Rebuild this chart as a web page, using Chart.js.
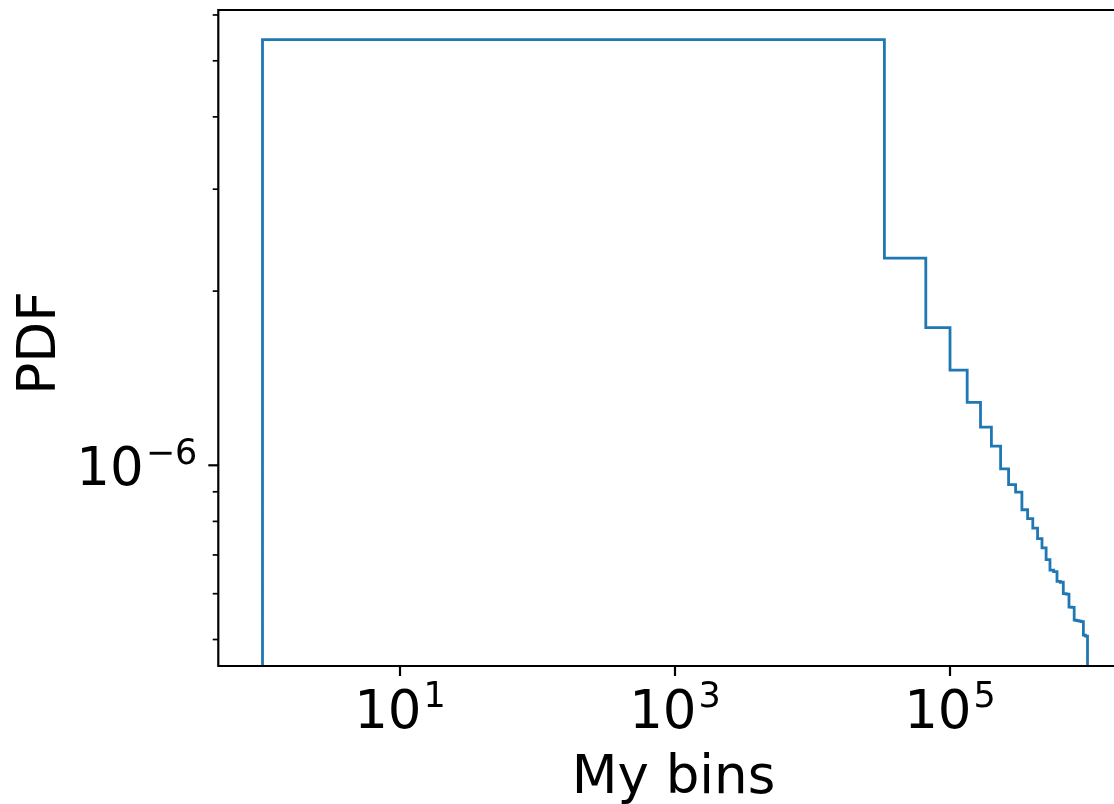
<!DOCTYPE html>
<html>
<head>
<meta charset="utf-8">
<title>PDF histogram</title>
<script src="https://cdn.jsdelivr.net/npm/chart.js@4/dist/chart.umd.min.js"></script>
<style>
  html, body { margin: 0; padding: 0; background: #fff; overflow: hidden; }
  #wrap { width: 1140px; height: 804px; }
</style>
</head>
<body>
<div id="wrap"><canvas id="histChart" width="1140" height="804"></canvas></div>
<script>
// ===================================
// Data: step histogram, log-log
// ===================================

// bin edges (30 linear bins from 1 to 1e6)
const binEdges = [
  1, 33334, 66667, 100000, 133334, 166667, 200000, 233334, 266667, 300000,
  333334, 366667, 400000, 433334, 466667, 500000, 533334, 566667, 600000, 633334,
  666667, 700000, 733334, 766667, 800000, 833334, 866667, 900000, 933334, 966667,
  1000000
];

// PDF value of each bin
const pdfValues = [
  5.44e-6, 2.28e-6, 1.73e-6, 1.46e-6, 1.285e-6, 1.164e-6, 1.079e-6, 9.86e-7, 9.26e-7, 8.99e-7,
  8.38e-7, 8.09e-7, 7.79e-7, 7.47e-7, 7.20e-7, 6.87e-7, 6.59e-7, 6.55e-7, 6.30e-7, 6.28e-7,
  6.00e-7, 5.99e-7, 5.69e-7, 5.68e-7, 5.40e-7, 5.39e-7, 5.38e-7, 5.37e-7, 5.09e-7, 5.07e-7
];

const xTickValues = [10, 1000, 100000];
const yTickValues = [5e-7, 6e-7, 7e-7, 8e-7, 9e-7, 1e-6, 2e-6, 3e-6, 4e-6, 5e-6, 6e-6];
const yMajorTicks = [1e-6];

const xLabel = 'My bins';
const yLabel = 'PDF';

// axis limits
const xLimits = [0.477, 1.995e6];
const yLimits = [4.5e-7, 6.12e-6];

// ===================================
// Helpers
// ===================================

// outline of a step histogram: up at the first edge, down at the last
function buildStepPoints(edges, values, floor) {
  const pts = [{ x: edges[0], y: floor }];
  values.forEach((v, i) => pts.push({ x: edges[i], y: v }));
  pts.push({ x: edges[edges.length - 1], y: floor });
  return pts;
}

const FONT = '"DejaVu Sans", sans-serif';
const BASE_SIZE = 53;
const SUP_SIZE = 35;
const SUP_RAISE = 21.5;

// draws "10" with the exponent as a superscript
function drawPowerLabel(ctx, value, x, baseline, align) {
  const exp = String(Math.round(Math.log10(value))).replace('-', '\u2212');
  ctx.font = BASE_SIZE + 'px ' + FONT;
  const wBase = ctx.measureText('10').width;
  ctx.font = SUP_SIZE + 'px ' + FONT;
  const wSup = ctx.measureText(exp).width;
  const gap = 2;
  const total = wBase + gap + wSup;
  let start = x - total / 2;
  if (align === 'right') start = x - total;

  ctx.textAlign = 'left';
  ctx.textBaseline = 'alphabetic';
  ctx.font = BASE_SIZE + 'px ' + FONT;
  ctx.fillText('10', start, baseline);
  ctx.font = SUP_SIZE + 'px ' + FONT;
  ctx.fillText(exp, start + wBase + gap, baseline - SUP_RAISE);
}

// frame, tick marks and labels in the matplotlib look
const axesDecor = {
  id: 'axesDecor',
  afterDraw(chart) {
    const { ctx, chartArea: area, scales: { x, y } } = chart;
    ctx.save();
    ctx.strokeStyle = '#000';
    ctx.fillStyle = '#000';

    // spines
    ctx.lineWidth = 2.2;
    ctx.beginPath();
    ctx.moveTo(area.left, area.top - 1.1);
    ctx.lineTo(area.left, area.bottom + 1.1);
    ctx.moveTo(area.left - 1.1, area.bottom);
    ctx.lineTo(area.right + 1.1, area.bottom);
    ctx.moveTo(area.left - 1.1, area.top);
    ctx.lineTo(area.right + 1.1, area.top);
    ctx.moveTo(area.right, area.top - 1.1);
    ctx.lineTo(area.right, area.bottom + 1.1);
    ctx.stroke();

    // y ticks
    y.ticks.forEach(t => {
      const py = y.getPixelForValue(t.value);
      const major = yMajorTicks.includes(t.value);
      const len = major ? 10 : 5.6;
      ctx.lineWidth = major ? 2.2 : 1.7;
      ctx.beginPath();
      ctx.moveTo(area.left - len, py);
      ctx.lineTo(area.left, py);
      ctx.stroke();
      if (major) drawPowerLabel(ctx, t.value, area.left - 21, py + 20, 'right');
    });

    // x ticks
    x.ticks.forEach(t => {
      const px = x.getPixelForValue(t.value);
      ctx.lineWidth = 2.2;
      ctx.beginPath();
      ctx.moveTo(px, area.bottom);
      ctx.lineTo(px, area.bottom + 10);
      ctx.stroke();
      drawPowerLabel(ctx, t.value, px, area.bottom + 62.3, 'center');
    });

    // axis titles
    ctx.font = BASE_SIZE + 'px ' + FONT;
    ctx.textAlign = 'center';
    ctx.textBaseline = 'alphabetic';
    ctx.fillText(xLabel, (area.left + area.right) / 2, 793.3);

    ctx.translate(55, 343);
    ctx.rotate(-Math.PI / 2);
    ctx.fillText(yLabel, 0, 0);
    ctx.restore();
  }
};

// ===================================
// Chart
// ===================================

const ctx = document.getElementById('histChart');

new Chart(ctx, {
  type: 'line',
  data: {
    datasets: [{
      label: 'PDF',
      data: buildStepPoints(binEdges, pdfValues, yLimits[0]),
      stepped: true,
      borderColor: '#1f77b4',
      borderWidth: 2.8,
      pointRadius: 0,
      pointHoverRadius: 0,
      fill: false,
      tension: 0
    }]
  },
  options: {
    responsive: false,
    animation: false,
    events: [],
    layout: {
      padding: { top: 10, left: 0, right: 11.25, bottom: 0 }
    },
    plugins: {
      legend: { display: false },
      tooltip: { enabled: false }
    },
    scales: {
      x: {
        type: 'logarithmic',
        min: xLimits[0],
        max: xLimits[1],
        grid: { display: false },
        border: { display: false },
        ticks: { display: false },
        afterBuildTicks: scale => {
          scale.ticks = xTickValues.map(v => ({ value: v }));
        },
        afterFit: scale => { scale.height = 138; }
      },
      y: {
        type: 'logarithmic',
        min: yLimits[0],
        max: yLimits[1],
        grid: { display: false },
        border: { display: false },
        ticks: { display: false },
        afterBuildTicks: scale => {
          scale.ticks = yTickValues.map(v => ({ value: v }));
        },
        afterFit: scale => { scale.width = 218.3; }
      }
    }
  },
  plugins: [axesDecor]
});
</script>
</body>
</html>
